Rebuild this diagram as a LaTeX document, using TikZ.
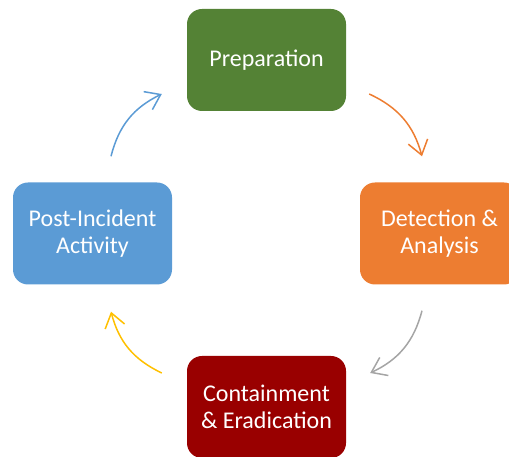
\documentclass[tikz,border=0pt]{standalone}
\usepackage{fontspec}
\setmainfont{Carlito}
\usetikzlibrary{arrows.meta}
\usetikzlibrary{calc}
\usetikzlibrary{positioning}

\definecolor{prepgreen}{HTML}{548235}
\definecolor{detorange}{HTML}{ED7D31}
\definecolor{contred}{HTML}{990000}
\definecolor{postblue}{HTML}{5B9BD5}
\definecolor{arrgray}{HTML}{A5A5A5}
\definecolor{arryellow}{HTML}{FFC000}

\begin{document}
\begin{tikzpicture}[x=1pt,y=1pt,
    phase/.style={rounded corners=15pt, minimum width=159pt, minimum height=102pt,
        text=white, align=center, inner sep=0pt,
        font={\fontsize{24}{27}\selectfont}},
    cycle/.style={line width=1.5pt, bend left=25,
        -{Straight Barb[length=14pt,width=20pt,line width=1.5pt]}}]
\useasboundingbox (0,0) rectangle (509,457);
%
\node[phase, fill=prepgreen] (prep) at (266.5,397) {Preparation};
\node[phase, fill=detorange] (det) at (439.5,223.5) {Detection \&\\Analysis};
\node[phase, fill=contred] (cont) at (266.5,50) {Containment\\\& Eradication};
\node[phase, fill=postblue] (post) at (92.5,223.5) {Post-Incident\\Activity};
%
\draw[cycle, detorange] ([shift={(23,-34)}]prep.east) to ([shift={(-17.5,26)}]det.north);
\draw[cycle, arrgray] ([shift={(-17.5,-26)}]det.south) to ([shift={(24,34)}]cont.east);
\draw[cycle, arryellow] ([shift={(-25,34)}]cont.west) to ([shift={(18.5,-27)}]post.south);
\draw[cycle, postblue] ([shift={(18.5,26)}]post.north) to ([shift={(-25,-34)}]prep.west);
\end{tikzpicture}
\end{document}
